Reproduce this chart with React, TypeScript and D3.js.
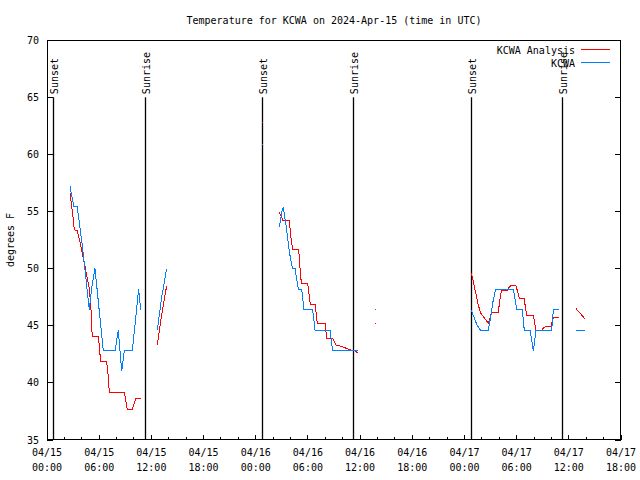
import React from "react";
import * as d3 from "d3";

const TITLE = "Temperature for KCWA on 2024-Apr-15 (time in UTC)";
const Y_LABEL = "degrees F";
const SERIES_NAMES = ["KCWA Analysis", "KCWA"];
const SERIES_COLORS = ["#ff0000", "#0080ff"];

// hours after 2024-04-15 00:00 UTC; null temp = gap
const analysisHours = [
  2.645, 2.84, 2.99, 3.14, 3.48, 3.68, 3.99, 4.17, 4.37, 4.56, 4.86, 5.06, 5.14, 5.21, 5.9, 6.09, 6.13, 6.86, 7.05, 7.16, 8.89, 9.23, 9.81, 10.2, 10.77,
  11.5,
  12.68, 13.19, 13.76,
  20,
  24.68, 24.8,
  25.5,
  26.68, 26.99, 27.1, 27.86, 28.02, 28.25, 28.94, 29.17, 29.29, 29.98, 30.27, 30.82, 31.08, 31.97, 32.16, 32.85, 33.23, 33.88, 34.46, 34.84, 35.41, 35.79,
  36.5,
  37.7, 37.8,
  40,
  48.75, 48.95, 49.13, 49.41, 49.59, 49.87, 50.17, 50.48, 50.74, 50.94, 51.13, 51.89, 52.17, 52.28, 52.97, 53.16, 53.32, 53.93, 54.31, 54.85, 55.16, 55.92, 56.23, 56.88, 57.07, 57.26, 57.92, 58.22, 58.87,
  60,
  60.83, 61.86,
];
const analysisTemps = [
  56.6, 55.4, 54.5, 53.4, 53.3, 52.7, 51.6, 50.9, 50.2, 49.4, 48.3, 46.4, 44.9, 44.1, 44.1, 42.6, 41.9, 41.9, 40.5, 39.2, 39.2, 37.7, 37.7, 38.6, 38.6,
  null,
  43.3, 46.0, 48.5,
  null,
  62.8, 62.8,
  null,
  54.9, 54.5, 54.25, 54.25, 52.9, 51.7, 51.7, 49.2, 48.7, 48.7, 46.9, 46.9, 45.2, 45.2, 43.9, 43.9, 43.3, 43.2, 43.0, 42.9, 42.8, 42.6,
  null,
  45.2, 45.2,
  null,
  49.6, 49.15, 48.4, 47.5, 46.8, 46.1, 45.8, 45.5, 45.2, 45.65, 46.2, 46.2, 47.8, 48.1, 48.1, 48.4, 48.5, 48.5, 47.4, 47.4, 45.9, 45.9, 44.6, 44.6, 44.8, 44.9, 44.9, 45.7, 45.7,
  null,
  46.5, 45.6,
];

const obsHours = [
  2.645, 3.1, 3.48, 4.06, 4.37, 4.86, 5.14, 5.52, 6.47, 7.82, 8.2, 8.59, 8.89, 9.81, 10.54, 10.77,
  11.5,
  12.68, 13.19, 13.76,
  20,
  24.68, 24.8,
  25.5,
  26.71, 27.02, 27.17, 27.33, 27.48, 27.86, 28.14, 28.25, 28.52, 28.9, 29.29, 29.55, 30.55, 30.82, 32.54, 32.85, 35.79,
  36.5,
  37.7, 37.8,
  40,
  48.75, 49.02, 49.21, 49.48, 49.87, 50.74, 51.02, 51.25, 51.59, 53.62, 54.01, 54.65, 54.88, 55.54, 55.73, 55.92, 56.23, 58.03, 58.22, 58.87,
  60,
  60.83, 61.86,
];
const obsTemps = [
  57.2, 55.4, 55.4, 52.0, 49.9, 46.4, 48.3, 50.0, 42.8, 42.8, 44.6, 41.0, 42.8, 42.8, 48.2, 46.4,
  null,
  44.6, 47.5, 50.0,
  null,
  60.9, 60.9,
  null,
  53.6, 55.0, 55.4, 54.5, 53.8, 51.5, 50.3, 50.0, 50.0, 48.2, 48.2, 46.4, 46.4, 44.6, 44.6, 42.8, 42.8,
  null,
  46.4, 46.4,
  null,
  46.4, 45.9, 45.5, 45.0, 44.6, 44.6, 45.8, 47.0, 48.2, 48.2, 46.4, 46.4, 44.6, 44.6, 43.75, 42.8, 44.6, 44.6, 46.4, 46.4,
  null,
  44.6, 44.6,
];

const sunLabels = ["Sunset", "Sunrise", "Sunset", "Sunrise", "Sunset", "Sunrise"];
const sunTimes = [
  "2024-04-15T00:40:00Z",
  "2024-04-15T11:16:00Z",
  "2024-04-16T00:43:00Z",
  "2024-04-16T11:12:00Z",
  "2024-04-17T00:45:00Z",
  "2024-04-17T11:13:00Z",
];

const yTicks = [35, 40, 45, 50, 55, 60, 65, 70];
const START = new Date("2024-04-15T00:00:00Z");
const END = new Date("2024-04-17T18:00:00Z");

const FONT = "'DejaVu Sans Mono', monospace";

export default function App() {
  const W = 640, H = 480;
  const L = 47, R = 621, T = 40, B = 440;
  const x = d3.scaleUtc().domain([START, END]).range([L, R]);
  const y = d3.scaleLinear().domain([35, 70]).range([B, T]);
  const toDate = (h: number) => new Date(START.getTime() + h * 3600e3);

  const line = d3
    .line<[number, number | null]>()
    .defined((d) => d[1] != null)
    .x((d) => x(toDate(d[0])))
    .y((d) => y(d[1] as number));

  const series = [
    analysisHours.map((h, i) => [h, analysisTemps[i]] as [number, number | null]),
    obsHours.map((h, i) => [h, obsTemps[i]] as [number, number | null]),
  ];

  const majorTicks = d3.utcHour.every(6)!.range(START, new Date(END.getTime() + 1));
  const minorTicks = d3.utcHour.every(2)!.range(START, new Date(END.getTime() + 1));
  const fmtDate = d3.utcFormat("%m/%d");
  const fmtTime = d3.utcFormat("%H:%M");

  return (
    <svg width={W} height={H} style={{ position: "absolute", left: 0, top: 0, background: "#fff" }} fontFamily={FONT} fontSize={10}>
      <rect x={0} y={0} width={W} height={H} fill="#fff" />
      <text x={(L + R) / 2} y={24} textAnchor="middle" fill="#000">{TITLE}</text>
      <text transform={`translate(14,${(T + B) / 2}) rotate(-90)`} textAnchor="middle" fill="#000">{Y_LABEL}</text>

      {/* y ticks */}
      {yTicks.map((v) => (
        <g key={v}>
          <line x1={L} x2={L + 6} y1={y(v)} y2={y(v)} stroke="#000" shapeRendering="crispEdges" />
          <line x1={R} x2={R - 6} y1={y(v)} y2={y(v)} stroke="#000" shapeRendering="crispEdges" />
          <text x={39} y={y(v)} dy="0.35em" textAnchor="end" fill="#000">{v}</text>
        </g>
      ))}

      {/* x ticks */}
      {minorTicks.map((d, i) => (
        <line key={"m" + i} x1={x(d)} x2={x(d)} y1={B} y2={B - 3} stroke="#000" shapeRendering="crispEdges" />
      ))}
      {majorTicks.map((d, i) => (
        <g key={"M" + i}>
          <line x1={x(d)} x2={x(d)} y1={B} y2={B - 5} stroke="#000" shapeRendering="crispEdges" />
          <text x={x(d)} y={456} textAnchor="middle" fill="#000">{fmtDate(d)}</text>
          <text x={x(d)} y={471} textAnchor="middle" fill="#000">{fmtTime(d)}</text>
        </g>
      ))}

      {/* sunrise / sunset */}
      {sunTimes.map((s, i) => {
        const xx = Math.round(x(new Date(s))) + 0.5;
        return (
          <g key={s}>
            <line x1={xx} x2={xx} y1={y(35)} y2={y(65)} stroke="#000" strokeWidth={1.3} />
            <text transform={`translate(${xx + 4},${y(65) - 3}) rotate(-90)`} textAnchor="start" fill="#000">{sunLabels[i]}</text>
          </g>
        );
      })}

      {/* data */}
      {series.map((s, i) => (
        <path key={i} d={line(s) || ""} fill="none" stroke={SERIES_COLORS[i]} strokeWidth={1} shapeRendering="crispEdges" />
      ))}

      {/* border */}
      <rect x={L + 0.5} y={T + 0.5} width={R - L - 1} height={B - T - 1} fill="none" stroke="#000" shapeRendering="crispEdges" />

      {/* legend */}
      {SERIES_NAMES.map((n, i) => (
        <g key={n}>
          <text x={575} y={54 + i * 13} textAnchor="end" fill="#000">{n}</text>
          <line x1={581} x2={610} y1={49.5 + i * 13} y2={49.5 + i * 13} stroke={SERIES_COLORS[i]} strokeWidth={1} shapeRendering="crispEdges" />
        </g>
      ))}
    </svg>
  );
}
